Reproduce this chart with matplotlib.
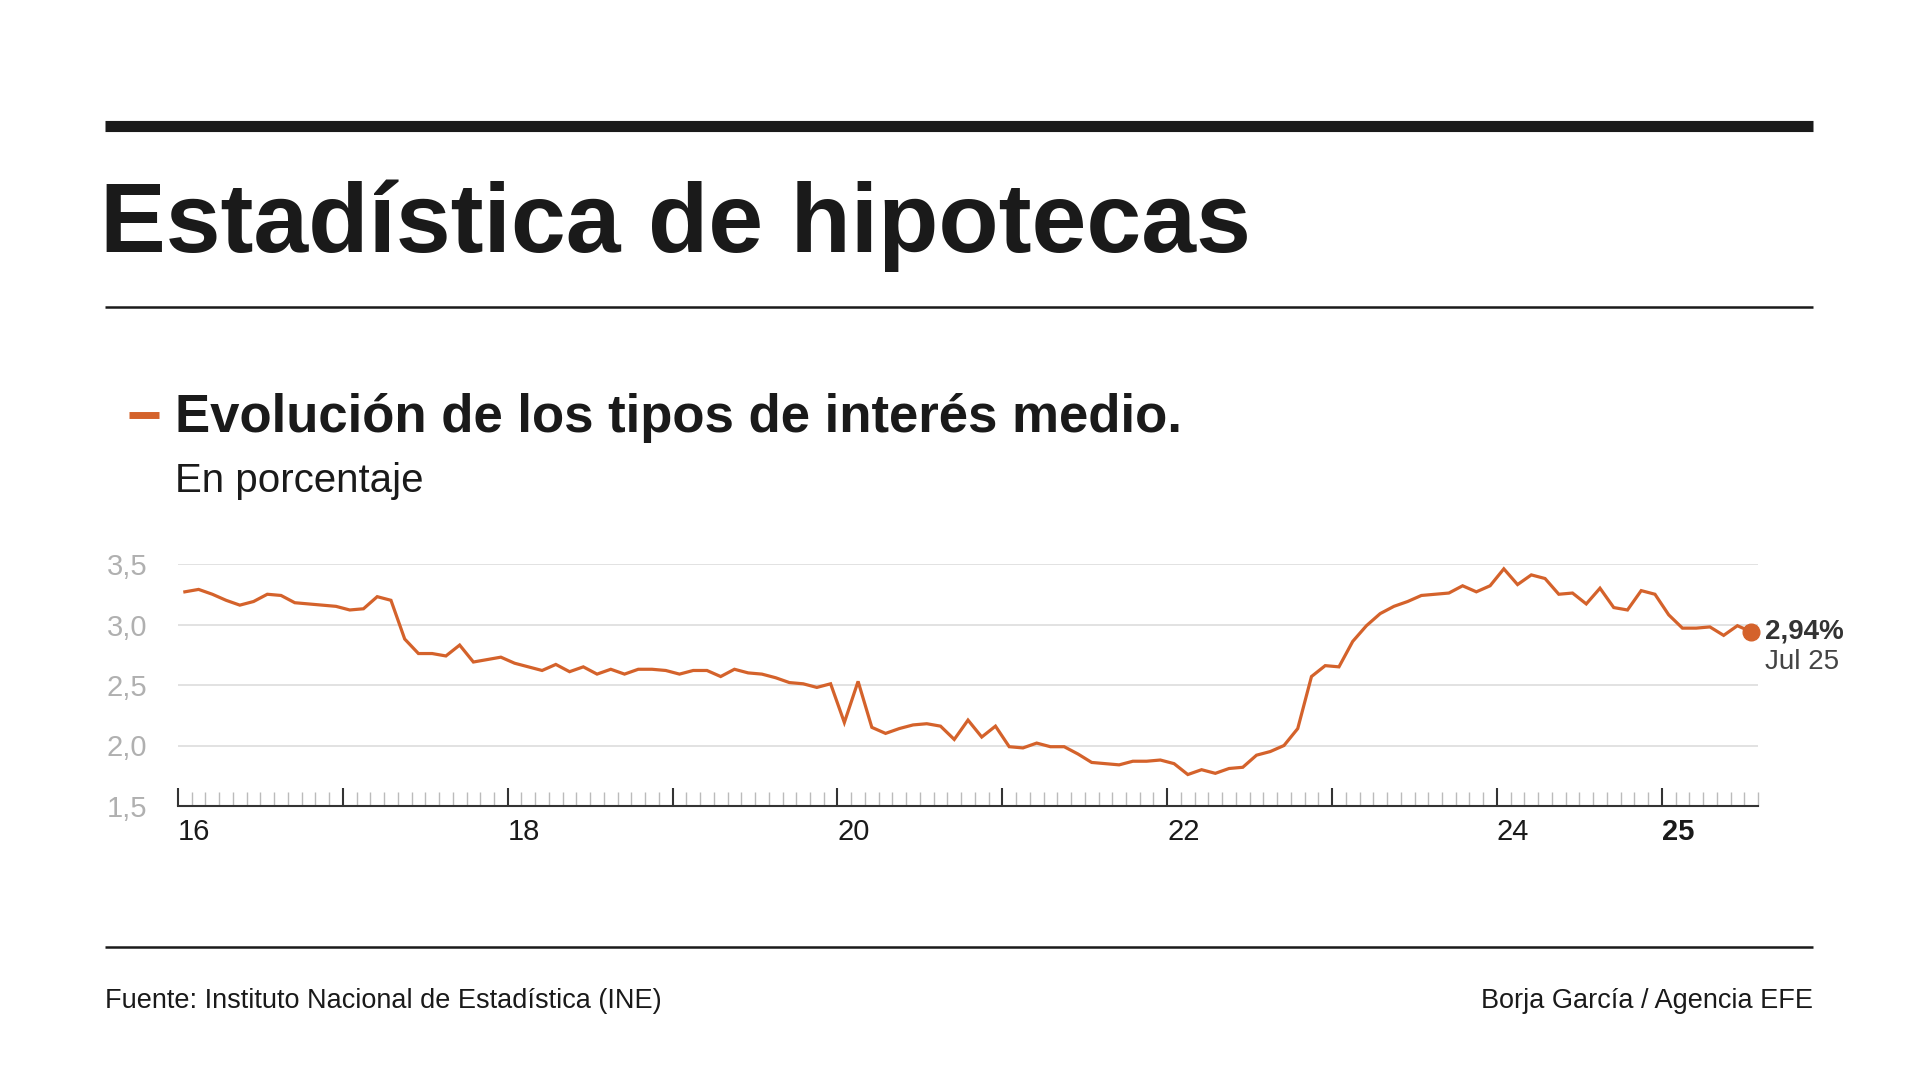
import numpy as np
import matplotlib.pyplot as plt
from matplotlib.lines import Line2D
from matplotlib import rcParams

rcParams['font.family'] = ['Liberation Sans Narrow', 'Liberation Sans', 'DejaVu Sans']

# monthly average mortgage rate, Jan 2016 .. Jul 2025
rates = [3.27, 3.29, 3.25, 3.20, 3.16, 3.19, 3.25, 3.24, 3.18, 3.17, 3.16, 3.15,
         3.12, 3.13, 3.23, 3.20, 2.88, 2.76, 2.76, 2.74, 2.83, 2.69, 2.71, 2.73,
         2.68, 2.65, 2.62, 2.67, 2.61, 2.65, 2.59, 2.63, 2.59, 2.63, 2.63, 2.62,
         2.59, 2.62, 2.62, 2.57, 2.63, 2.60, 2.59, 2.56, 2.52, 2.51, 2.48, 2.51,
         2.19, 2.53, 2.15, 2.10, 2.14, 2.17, 2.18, 2.16, 2.05, 2.21, 2.07, 2.16,
         1.99, 1.98, 2.02, 1.99, 1.99, 1.93, 1.86, 1.85, 1.84, 1.87, 1.87, 1.88,
         1.85, 1.76, 1.80, 1.77, 1.81, 1.82, 1.92, 1.95, 2.00, 2.14, 2.57, 2.66,
         2.65, 2.86, 2.99, 3.09, 3.15, 3.19, 3.24, 3.25, 3.26, 3.32, 3.27, 3.32,
         3.46, 3.33, 3.41, 3.38, 3.25, 3.26, 3.17, 3.30, 3.14, 3.12, 3.28, 3.25,
         3.08, 2.97, 2.97, 2.98, 2.91, 2.99, 2.94]
year_labels = ['16', '18', '20', '22', '24', '25']
year_pos = [0, 24, 48, 72, 96, 108]   # months since Jan 2016
y_ticks = [1.5, 2.0, 2.5, 3.0, 3.5]
y_labels = ['1,5', '2,0', '2,5', '3,0', '3,5']
last_label = '2,94%'
last_date = 'Jul 25'

ORANGE = '#D4622B'
W, H = 1920, 1084

fig = plt.figure(figsize=(19.2, 10.84), dpi=100)
fig.patch.set_facecolor('white')

def fy(px):
    return 1 - px / H

def fx(px):
    return px / W

# header rules
fig.add_artist(Line2D([fx(105), fx(1813)], [fy(126), fy(126)], color='#1a1a1a', lw=8,
                      solid_capstyle='butt'))
fig.add_artist(Line2D([fx(105), fx(1813)], [fy(307), fy(307)], color='#1a1a1a', lw=1.8,
                      solid_capstyle='butt'))
fig.add_artist(Line2D([fx(105), fx(1813)], [fy(947), fy(947)], color='#1a1a1a', lw=1.8,
                      solid_capstyle='butt'))

fig.text(fx(100), fy(252), 'Estadística de hipotecas', fontsize=71, fontweight='bold',
         color='#1a1a1a', family='Liberation Sans', va='baseline')
fig.add_artist(Line2D([fx(129), fx(159)], [fy(415), fy(415)], color=ORANGE, lw=5,
                      solid_capstyle='butt'))
fig.text(fx(175), fy(432), 'Evolución de los tipos de interés medio.', fontsize=38,
         fontweight='bold', color='#1a1a1a', family='Liberation Sans', va='baseline')
fig.text(fx(175), fy(492), 'En porcentaje', fontsize=29, color='#1a1a1a',
         family='Liberation Sans', va='baseline')

fig.text(fx(105), fy(1008), 'Fuente: Instituto Nacional de Estadística (INE)', fontsize=19.5,
         color='#1a1a1a', va='baseline')
fig.text(fx(1813), fy(1008), 'Borja García / Agencia EFE', fontsize=19.5,
         color='#1a1a1a', va='baseline', ha='right')

# chart
ax = fig.add_axes([fx(178), fy(806), fx(1758 - 178), (806 - 564) / H])
x = np.arange(len(rates)) + 0.5
ax.plot(x, rates, color=ORANGE, lw=2.3, solid_joinstyle='miter', clip_on=False)
ax.plot(x[-1], rates[-1], 'o', color=ORANGE, ms=12, clip_on=False)
ax.set_xlim(0, 115)
ax.set_ylim(1.5, 3.5)
for s in ['top', 'right', 'left']:
    ax.spines[s].set_visible(False)
ax.spines['bottom'].set_color('#333333')
ax.spines['bottom'].set_linewidth(1.5)

ax.set_yticks(y_ticks)
ax.set_yticklabels(y_labels, fontsize=21, color='#b0b0b0')
ax.tick_params(axis='y', length=0, pad=22)
ax.grid(axis='y', color='#dddddd', lw=1.2)
ax.set_axisbelow(True)

ax.set_xticks(range(0, 116, 12))
ax.set_xticklabels([])
ax.set_xticks(range(0, 116), minor=True)
ax.tick_params(axis='x', which='major', direction='in', length=13, width=1.5, color='#333333')
ax.tick_params(axis='x', which='minor', direction='in', length=10, width=1, color='#bbbbbb')
for lab, pos in zip(year_labels, year_pos):
    ax.text(pos, -0.05, lab, transform=ax.get_xaxis_transform(), ha='left', va='top',
            fontsize=21, color='#1a1a1a', fontweight='bold' if lab == '25' else 'normal')

ax.annotate(last_label, (x[-1], rates[-1]), xytext=(10, 0), textcoords='offset points',
            fontsize=20, fontweight='bold', color='#333333', va='center', annotation_clip=False)
ax.annotate(last_date, (x[-1], rates[-1]), xytext=(10, -22), textcoords='offset points',
            fontsize=20, color='#444444', va='center', annotation_clip=False)

fig.savefig('out.png', dpi=100, facecolor='white')
